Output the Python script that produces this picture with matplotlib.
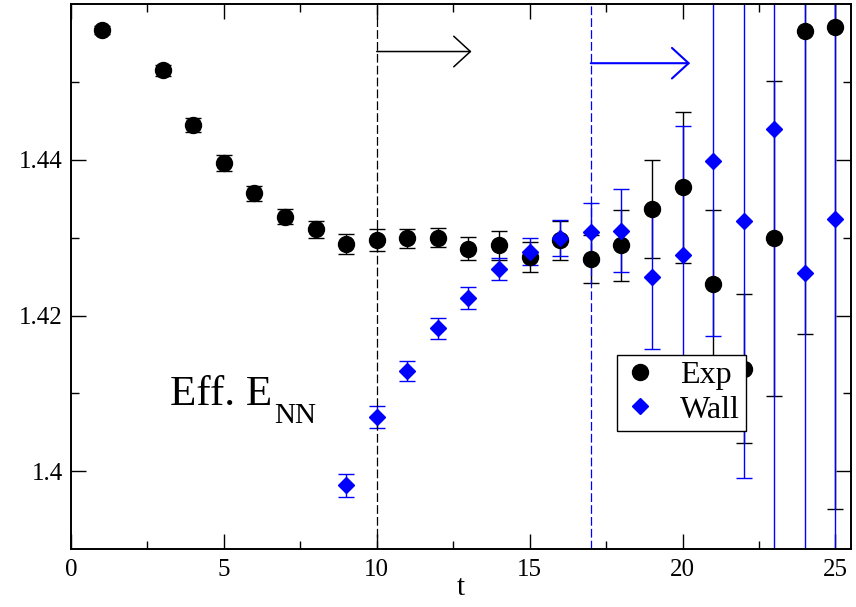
import numpy as np
import matplotlib
matplotlib.use("Agg")
import matplotlib.pyplot as plt
from matplotlib.ticker import MultipleLocator, FixedLocator, FixedFormatter

plt.rcParams['font.family'] = ['Liberation Serif', 'DejaVu Serif']
plt.rcParams['mathtext.fontset'] = 'stix'

# Exp source (black circles)
t_exp = [1, 3, 4, 5, 6, 7, 8, 9, 10, 11, 12, 13, 14, 15, 16, 17, 18, 19, 20,
         21, 22, 23, 24, 25]
e_exp = [1.4567, 1.4515, 1.4445, 1.4396, 1.4357, 1.4327, 1.4311, 1.4292,
         1.4297, 1.4299, 1.4300, 1.4286, 1.4290, 1.4275, 1.4297, 1.4273,
         1.4290, 1.4337, 1.4365, 1.4241, 1.4132, 1.4299, 1.4565, 1.4570]
err_exp = [0.0005, 0.0007, 0.0009, 0.00105, 0.0010, 0.00096, 0.0011, 0.0013,
           0.00137, 0.00126, 0.0012, 0.00145, 0.0018, 0.0019, 0.0025, 0.0031,
           0.0046, 0.0063, 0.0097, 0.0095, 0.0096, 0.0202, 0.0389, 0.0618]

# Wall source (blue diamonds)
t_wall = [9, 10, 11, 12, 13, 14, 15, 16, 17, 18, 19, 20, 21, 22, 23, 24, 25]
e_wall = [1.3982, 1.4070, 1.4129, 1.4184, 1.4223, 1.4260, 1.4282, 1.4300,
          1.4307, 1.4309, 1.4249, 1.4278, 1.4398, 1.4321, 1.4440, 1.4255,
          1.4324]
err_wall = [0.00145, 0.00137, 0.0013, 0.00135, 0.0014, 0.0014, 0.0017, 0.0023,
            0.0038, 0.0053, 0.0092, 0.0166, 0.0224, 0.0329, 0.06, 0.05, 0.06]

# fit window starts
t_start_exp = 10
t_start_wall = 17
arrow_exp = (10, 13.1, 1.4539)
arrow_wall = (17, 20.25, 1.4524)

fig = plt.figure(figsize=(8.56, 6.07), dpi=100)
ax = fig.add_axes([0.0829, 0.0951, 0.9109, 0.8983])

eb1 = ax.errorbar(t_exp, e_exp, yerr=err_exp, fmt='o', color='black',
                  ms=11.5, elinewidth=1.0, capsize=5.8, capthick=1.0)
eb2 = ax.errorbar(t_wall, e_wall, yerr=err_wall, fmt='D', color='#0000ff',
                  ms=8.2, elinewidth=1.0, capsize=5.8, capthick=1.0)

ax.axvline(t_start_exp, color='black', lw=0.9, dashes=(7, 2.5))
ax.axvline(t_start_wall, color='#0000ff', lw=0.9, dashes=(7, 2.5))

x0, x1, y = arrow_exp
ax.annotate('', xy=(x1, y), xytext=(x0, y),
            arrowprops=dict(arrowstyle='->,head_length=1.2,head_width=1.1',
                            mutation_scale=10, lw=1.1, color='black',
                            shrinkA=0, shrinkB=0))
x0, x1, y = arrow_wall
ax.annotate('', xy=(x1, y), xytext=(x0, y),
            arrowprops=dict(arrowstyle='->,head_length=1.2,head_width=1.1',
                            mutation_scale=10, lw=1.5, color='#0000ff',
                            shrinkA=0, shrinkB=0))

# label with a lowered subscript
ax.text(3.24, 1.40846, 'Eff. E', fontsize=31, va='baseline', ha='left')
ax.text(6.64, 1.40624, 'NN', fontsize=21, va='baseline', ha='left')

ax.set_xlim(0, 25.5)
ax.set_ylim(1.39, 1.46)
ax.xaxis.set_major_locator(MultipleLocator(5))
ax.xaxis.set_minor_locator(MultipleLocator(2.5))
ax.yaxis.set_major_locator(FixedLocator([1.40, 1.42, 1.44]))
ax.yaxis.set_major_formatter(FixedFormatter(['1.4', '1.42', '1.44']))
ax.yaxis.set_minor_locator(FixedLocator([1.41, 1.43, 1.45]))
ax.tick_params(which='both', direction='in', top=True, right=True,
               labelsize=18, width=1.0)
ax.tick_params(which='major', length=11, pad=7)
ax.tick_params(which='minor', length=5.5)
ax.tick_params(axis='y', which='major', pad=6)
for s in ax.spines.values():
    s.set_linewidth(1.4)

ax.set_xlabel('t', fontsize=21, labelpad=-4)

leg = ax.legend([eb1[0], eb2[0]], ['Exp', 'Wall'], loc='upper left',
                bbox_to_anchor=(0.7007, 0.3569), borderaxespad=0,
                fontsize=23, frameon=True, fancybox=False, framealpha=1,
                edgecolor='black', numpoints=1, handlelength=1.0,
                handletextpad=0.75, borderpad=0.2, labelspacing=0.15)
leg.get_frame().set_linewidth(1.0)
leg.set_zorder(10)

plt.savefig('out.png', dpi=100)
